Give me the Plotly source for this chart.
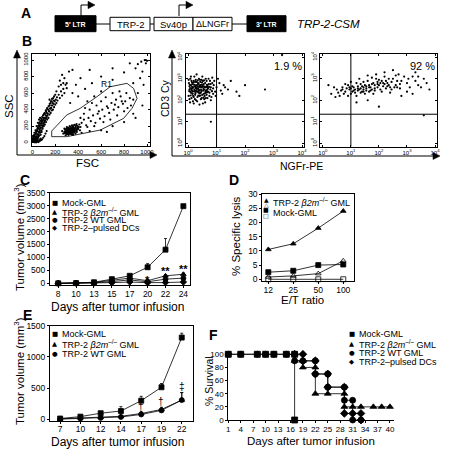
import plotly.graph_objects as go

W, H = 458, 451
def X(px): return px / W
def Y(py): return 1 - py / H

FONT = "Liberation Sans, Arial, Helvetica, sans-serif"
SYM = "DejaVu Sans, Liberation Sans, sans-serif"

# ---------------- DATA ----------------
# Panel B1: FSC / SSC events
b1_events = [
    (5,10),(10,30),(15,20),(20,50),(8,60),(25,15),(30,40),(35,70),(12,90),(40,30),(45,100),(50,60),(18,120),
    (55,130),(60,90),(28,150),(65,160),(70,120),(75,180),(38,200),(80,150),(85,210),(90,170),(95,230),(48,240),
    (100,200),(105,260),(110,220),(58,280),(115,290),(120,250),(22,5),(32,8),(42,12),(52,20),(62,35),(72,50),
    (3,40),(6,80),(68,300),(14,45),(24,75),(34,110),(44,140),(54,170),(64,200),(74,230),(84,260),(9,15),(19,25),
    (2,20),(4,50),(7,25),(11,70),(13,35),(16,85),(21,40),(23,95),(26,60),(29,110),(31,20),(33,130),(36,55),
    (39,145),(41,80),(43,165),(46,45),(49,185),(51,100),(53,205),(56,75),(59,225),(61,120),(63,245),(66,140),
    (69,180),(71,265),(73,95),(76,210),(79,285),(81,130),(83,240),(86,310),(88,190),(91,270),(93,330),(96,210),
    (98,280),(101,345),(103,240),(106,300),(108,360),(112,270),(116,330),(118,390),(122,300),(126,360),(128,410),
    (132,330),(138,400),(142,440),(148,380),(152,470),(158,420),(162,500),(168,450),(172,530),(178,480),(182,540),
    (188,510),(35,5),(45,18),(55,8),(65,22),(75,30),(85,40),(95,60),(105,80),(115,110),(125,140),
    (125,320),(130,280),(135,350),(140,300),(145,380),(150,340),(155,410),(160,360),(165,420),(170,390),(175,450),
    (180,400),(185,470),(190,430),(195,500),(200,460),(205,520),(210,480),(215,550),(220,510),(230,580),(240,540),
    (250,620),(260,570),(270,650),(280,600),(290,700),(300,660),(240,750),(260,820),(230,680),(210,620),(190,560),
    (170,500),(150,450),(280,780),(320,860),(300,720),(270,720),(110,350),(95,300),(130,420),(160,480),(200,580),
    (350,880),(150,520),(120,380),(250,700),
    (270,110),(280,130),(290,150),(300,120),(310,140),(320,160),(330,130),(340,150),(350,170),(360,140),(300,100),
    (315,180),(325,110),(335,190),(345,120),(355,200),(365,160),(375,180),(385,150),(395,200),(280,170),(290,90),
    (305,160),(320,130),(340,170),(310,110),(330,150),(350,140),(360,180),(380,210),(400,170),(410,220),(420,190),
    (260,140),(370,130),(345,100),(295,135),(305,125),(315,145),(325,165),(335,140),(345,160),(355,130),(318,120),
    (285,115),(295,145),(300,175),(308,105),(312,150),(322,140),(328,175),(332,120),(338,160),(342,135),(348,185),
    (352,115),(358,155),(362,125),(368,170),(372,145),(378,195),(382,165),(388,130),(392,180),(302,190),(316,95),
    (326,200),(336,105),(346,210),(356,95),(366,215),(376,110),(386,225),(396,160),(406,190),(416,150),(286,160),
    (296,125),(306,145),(314,170),(324,150),(334,165),(344,145),(354,160),
    (430,240),(450,280),(470,210),(490,300),(510,260),(530,330),(550,240),(570,350),(590,290),(610,400),(630,320),
    (650,440),(670,360),(690,480),(710,400),(730,520),(750,430),(770,560),(790,470),(810,500),(830,420),(850,540),
    (450,350),(500,400),(560,450),(600,500),(640,550),(700,600),(760,620),(820,600),(480,190),(540,200),(620,250),
    (680,280),(740,330),(800,380),(860,450),(880,520),(420,300),(460,420),(520,480),(580,380),(660,420),(720,460),
    (780,500),(540,560),(600,620),(480,500),
    (420,780),(380,700),(460,650),(520,720),(600,800),(700,760),(800,850),(880,720),(900,900),(920,950),(950,980),
    (980,1000),(960,860),(940,780),(990,960),(850,960),(700,900),(500,880),(350,600),(400,560),(330,480),(880,350),
    (920,600),(970,700),(1000,990),(990,1000),(600,150),(700,200),(800,250),(650,130),(900,300),(960,450),(430,120),
    (500,140),
]
b1_fsc = [p[0] for p in b1_events]
b1_ssc = [p[1] for p in b1_events]
r1_fsc = [169, 169, 300, 417, 563, 679, 825, 883, 913, 869, 796, 650, 592, 300, 169]
r1_ssc = [73, 141, 335, 415, 556, 677, 718, 657, 536, 415, 294, 194, 153, 73, 73]
b1_ticks = [0, 200, 400, 600, 800, 1000]

# Panels B2/B3: decade exponents (NGFr-PE, CD3 Cy)
b2_events = [
    (0.05,2.5),(0.1,2.7),(0.15,2.3),(0.2,2.9),(0.25,2.4),(0.3,2.6),(0.35,2.8),(0.4,2.2),(0.45,2.5),(0.5,2.7),
    (0.55,2.3),(0.6,2.6),(0.65,2.9),(0.7,2.4),(0.75,2.2),(0.8,2.6),(0.85,2.8),(0.02,2.2),(0.08,3.0),(0.12,2.1),
    (0.18,2.6),(0.22,3.1),(0.28,2.0),(0.32,2.4),(0.38,3.0),(0.42,2.7),(0.48,2.1),(0.52,2.9),(0.58,2.5),(0.62,2.1),
    (0.68,2.7),(0.72,3.0),(0.78,2.5),(0.88,2.3),(0.03,2.8),(0.13,2.45),(0.23,2.65),(0.33,2.15),(0.43,2.85),
    (0.53,2.45),(0.63,2.35),(0.73,2.75),(0.07,1.9),(0.17,1.95),(0.27,2.55),(0.37,2.35),(0.47,2.95),(0.57,2.05),
    (0.67,2.5),(0.77,2.9),(0.1,2.35),(0.2,2.15),(0.3,2.85),(0.4,2.45),(0.5,2.25),(0.6,2.8),(0.7,2.55),(0.15,2.75),
    (0.25,2.85),(0.35,2.55),(0.45,2.05),(0.55,2.65),(0.65,2.25),(0.05,2.05),(0.1,3.1),(0.3,3.2),(0.5,3.1),
    (0.2,1.85),(0.4,1.8),(0.6,1.9),(0.8,2.0),(0.85,3.05),(0.9,2.7),(0.95,2.4),(1.0,2.6),(1.1,2.8),(1.2,2.3),
    (1.05,3.0),(1.3,2.6),(1.5,2.9),(1.4,2.5),(1.7,2.4),(2.0,2.7),(2.7,2.5),(1.8,2.2),(0.8,1.0),(3.3,4.1),
    (0.35,2.65),(0.45,2.35),(0.25,2.25),(0.15,2.55),(0.55,2.75),(0.65,2.45),(0.05,2.65),(0.75,2.35),(0.12,2.9),
    (0.42,2.95),(0.62,3.0),(0.32,1.95),(0.52,1.85),(0.18,2.2),(0.38,2.5),(0.58,2.2),(0.08,2.4),(0.28,2.7),
    (0.48,2.6),(0.68,2.1),(0.22,2.5),(0.02,2.95),(0.88,2.55),(0.82,2.15),(1.15,2.45),(1.25,2.7),(0.92,2.9),
    (0.97,2.2),(0.14,2.62),(0.24,2.42),(0.34,2.72),(0.44,2.62),(0.54,2.52),(0.64,2.62),(0.26,2.32),(0.36,2.42),
    (0.11,2.52),(0.21,2.72),(0.31,2.52),(0.41,2.32),(0.51,2.62),(0.61,2.42),(0.16,2.32),(0.26,2.62),(0.36,2.22),
    (0.46,2.72),(0.56,2.92),(0.66,2.72),(0.06,2.72),(0.19,2.82),(0.29,2.42),(0.39,2.62),(0.49,2.82),(0.59,2.32),
    (0.69,2.62),(0.09,2.22),(0.14,2.82),(0.34,2.92),(0.44,2.22),(0.54,2.12),(0.74,2.62),(0.04,2.42),(0.24,2.05),
    (0.84,2.42),(0.79,2.75),(0.27,2.95),(0.47,2.42),(0.57,2.62),(0.17,2.42),(0.37,2.77),(0.07,2.57),(0.67,2.37),
]
b3_events = [
    (0.3,2.3),(0.5,2.5),(0.6,2.2),(0.7,2.6),(0.8,2.4),(0.9,2.7),(1.0,2.3),(1.1,2.6),(1.2,2.8),(1.3,2.5),
    (1.4,2.4),(1.5,2.7),(1.6,2.9),(1.7,2.6),(1.8,2.8),(1.9,3.0),(2.0,2.7),(2.1,2.9),(2.2,3.1),(2.3,2.8),
    (2.4,2.6),(2.5,3.0),(2.6,2.7),(2.7,3.2),(2.8,2.9),(3.0,2.8),(3.2,3.1),(3.4,2.7),(3.6,3.0),(3.8,2.5),
    (0.4,2.6),(0.65,2.45),(0.75,2.3),(0.85,2.55),(0.95,2.5),(1.05,2.65),(1.15,2.35),(1.25,2.55),(1.35,2.75),
    (1.45,2.5),(1.55,2.55),(1.65,2.4),(1.75,2.75),(1.85,2.55),(1.95,2.85),(2.05,2.5),(2.15,2.65),(2.25,2.55),
    (2.35,3.0),(2.45,2.85),(2.55,2.6),(2.65,2.9),(2.75,2.55),(2.9,3.1),(3.1,2.6),(3.3,2.9),(3.5,2.6),
    (0.55,2.35),(0.9,2.2),(1.2,2.2),(1.5,2.3),(1.8,2.3),(2.1,2.4),(2.4,2.35),(1.0,2.85),(1.3,3.0),(1.6,3.15),
    (1.9,3.2),(2.2,3.3),(2.5,3.4),(1.1,2.45),(1.4,2.65),(1.7,2.45),(2.0,2.95),(2.3,2.65),(0.8,2.75),(1.2,1.9),
    (1.6,2.0),(2.0,1.7),(2.8,2.2),(3.0,2.4),(3.2,2.3),(0.2,2.7),(0.45,2.15),(1.45,2.85),(1.75,3.05),(2.6,3.15),
    (3.3,3.3),(3.7,2.8),(3.6,1.3),(1.35,2.35),(1.65,2.7),(1.95,2.6),(2.2,2.75),(0.7,2.5),(1.0,2.55),(1.25,2.65),
    (1.55,2.45),(1.85,2.7),(2.15,2.8),(2.45,2.5),(2.75,2.75),(3.05,3.0),(3.4,3.1),(1.15,2.5),(1.45,2.6),
    (1.75,2.5),(2.05,2.8),(2.35,2.7),(2.65,2.6),(1.05,2.4),(1.35,2.55),(1.65,2.6),(1.95,2.75),(1.25,2.45),
    (1.55,2.65),(1.85,2.45),(2.25,2.9),(0.95,2.6),(1.45,2.4),
]
gate_ngfr_exp = 1.0
gate_cd3_exp = 1.35
b_pcts = ["1.9 %", "92 %"]
log_tickvals = [1, 10, 100, 1000, 10000]
log_ticktext = ["10<sup>0</sup>", "10<sup>1</sup>", "10<sup>2</sup>", "10<sup>3</sup>", "10<sup>4</sup>"]

# Panel C
c_days = ["8", "10", "13", "15", "17", "20", "22", "24"]
c_mock = [0, 10, 40, 160, 290, 620, 1300, 2980]
c_mock_err = [0, 0, 10, 30, 60, 140, 430, 0]
c_b2m = [0, 5, 30, 120, 200, 100, 290, 350]
c_b2m_err = [0, 0, 5, 20, 30, 20, 40, 50]
c_wt = [0, 5, 20, 70, 130, 60, 160, 200]
c_wt_err = [0, 0, 5, 15, 20, 15, 30, 40]
c_dc = [0, 0, 10, 25, 50, 25, 30, 50]
c_sig_days = ["20", "22", "24"]
c_sig_y = [420, 800, 880]
c_sig_txt = ["*", "**", "**"]

# Panel D
d_ratio = ["12", "25", "50", "100"]
d_b2m_trp2 = [10.5, 12.5, 18.0, 24.0]
d_b2m_ctrl = [0.8, 1.2, 2.0, 6.5]
d_mock_trp2 = [2.5, 3.0, 5.0, 5.2]
d_mock_ctrl = [0.0, 0.0, 0.0, 0.0]

# Panel E
e_days = ["7", "10", "12", "14", "17", "19", "22"]
e_mock = [15, 45, 100, 135, 300, 515, 1310]
e_mock_err = [8, 12, 20, 70, 70, 60, 70]
e_b2m = [10, 25, 35, 50, 95, 160, 310]
e_b2m_err = [5, 8, 10, 12, 25, 35, 120]
e_wt = [5, 15, 25, 40, 80, 145, 310]
e_wt_err = [5, 8, 10, 12, 20, 30, 120]
e_sig_days = ["17", "19", "22"]
e_sig_y = [215, 295, 520]
e_sig_txt = ["†", "†", "‡"]

# Panel F (Kaplan-Meier)
f_mock_days = [1, 4, 8, 10, 12, 15, 17, 17]
f_mock_surv = [100, 100, 100, 100, 100, 100, 100, 0]
f_b2m_days = [17, 17, 19, 19, 22, 22, 25, 29, 29, 31, 33, 36, 38, 40]
f_b2m_surv = [100, 90, 90, 80, 80, 40, 40, 40, 20, 20, 20, 20, 20, 20]
f_wt_days = [1, 4, 8, 10, 12, 15, 17, 17, 19, 22, 22, 25, 25, 29, 29, 31, 31, 33]
f_wt_surv = [100, 100, 100, 100, 100, 100, 100, 90, 90, 90, 70, 70, 50, 50, 30, 30, 0, 0]
f_dc_days = [17, 19, 19, 22, 22, 25, 25, 29, 29, 31, 33, 33]
f_dc_surv = [100, 100, 90, 90, 70, 70, 50, 50, 10, 10, 10, 0]
f_ticks = [1, 4, 7, 10, 13, 16, 19, 22, 25, 28, 31, 34, 37, 40]

B2M = "TRP-2 <i>β2m</i><sup>–/–</sup> GML"
LABELS = ["Mock-GML", B2M, "TRP-2 WT GML", "TRP-2–pulsed DCs"]

# ---------------- FIGURE ----------------
fig = go.Figure()
LW = 0.8
def dots(x, y, xa, ya):
    fig.add_trace(go.Scatter(x=x, y=y, mode="markers", xaxis=xa, yaxis=ya,
                             marker=dict(size=2.2, color="black", line=dict(width=0)),
                             showlegend=False, hoverinfo="skip"))
def line(x, y, xa, ya, w=LW):
    fig.add_trace(go.Scatter(x=x, y=y, mode="lines", xaxis=xa, yaxis=ya,
                             line=dict(color="black", width=w), showlegend=False, hoverinfo="skip"))

# B1
dots(b1_fsc, b1_ssc, "x", "y")
line(r1_fsc, r1_ssc, "x", "y")
# B2 / B3
dots([10 ** p[0] for p in b2_events], [10 ** p[1] for p in b2_events], "x2", "y2")
dots([10 ** p[0] for p in b3_events], [10 ** p[1] for p in b3_events], "x3", "y3")
for xa, ya in (("x2", "y2"), ("x3", "y3")):
    line([10 ** gate_ngfr_exp] * 2, [10 ** -0.2, 10 ** 4.2], xa, ya, 1)
    line([10 ** -0.2, 10 ** 4.2], [10 ** gate_cd3_exp] * 2, xa, ya, 1)

def series(x, y, sym, xa, ya, err=None, size=5, shape="linear"):
    kw = {}
    if err is not None:
        kw["error_y"] = dict(type="data", array=err, arrayminus=[0] * len(err), symmetric=False,
                             color="black", thickness=0.8, width=1.5)
    fig.add_trace(go.Scatter(x=x, y=y, mode="lines+markers", xaxis=xa, yaxis=ya,
                             line=dict(color="black", width=LW, shape=shape),
                             marker=dict(symbol=sym, size=size, color="black",
                                         line=dict(color="black", width=0.8)),
                             showlegend=False, cliponaxis=False, **kw))

# C
series(c_days, c_mock, "square", "x4", "y4", c_mock_err)
series(c_days, c_b2m, "triangle-up", "x4", "y4", c_b2m_err)
series(c_days, c_wt, "circle", "x4", "y4", c_wt_err)
series(c_days, c_dc, "diamond", "x4", "y4")
# D
series(d_ratio, d_b2m_trp2, "triangle-up", "x5", "y5")
series(d_ratio, d_b2m_ctrl, "triangle-up-open", "x5", "y5")
series(d_ratio, d_mock_trp2, "square", "x5", "y5")
series(d_ratio, d_mock_ctrl, "square-open", "x5", "y5")
# E
series(e_days, e_mock, "square", "x6", "y6", e_mock_err)
series(e_days, e_b2m, "triangle-up", "x6", "y6", e_b2m_err)
series(e_days, e_wt, "circle", "x6", "y6", e_wt_err)
# F
series(f_mock_days, f_mock_surv, "square", "x7", "y7", size=6, shape="hv")
series(f_b2m_days, f_b2m_surv, "triangle-up", "x7", "y7", size=6, shape="hv")
series(f_wt_days, f_wt_surv, "circle", "x7", "y7", size=6, shape="hv")
series(f_dc_days, f_dc_surv, "diamond", "x7", "y7", size=6, shape="hv")

# ---------------- AXES ----------------
def dx(a, b): return [X(a), X(b)]
def dy(top, bot): return [Y(bot), Y(top)]
base = dict(showgrid=False, zeroline=False, showline=True, linecolor="black", linewidth=1,
            automargin=False, tickcolor="black", ticks="outside", ticklen=2, tickwidth=1,
            tickfont=dict(family=FONT, size=8.5, color="black"))
bbox = dict(base, mirror="ticks", ticks="inside", ticklen=2, tickfont=dict(family=FONT, size=6, color="black"))
lay = {}
lay["xaxis"] = dict(bbox, domain=dx(31.5, 150), range=[-7, 1026], tickvals=b1_ticks, anchor="y")
lay["yaxis"] = dict(bbox, domain=dy(54, 146), range=[-40, 1073], tickvals=b1_ticks, tickangle=-90, anchor="x")
lay["xaxis2"] = dict(bbox, type="log", domain=dx(185.5, 304), range=[-0.09, 4.07], tickvals=log_tickvals,
                     ticktext=log_ticktext, anchor="y2")
lay["yaxis2"] = dict(bbox, type="log", domain=dy(54, 146.5), range=[-0.15, 4.15], tickvals=log_tickvals,
                     ticktext=log_ticktext, tickangle=-90, anchor="x2")
lay["xaxis3"] = dict(bbox, type="log", domain=dx(320, 437), range=[-0.1, 4.07], tickvals=log_tickvals,
                     ticktext=log_ticktext, anchor="y3")
lay["yaxis3"] = dict(bbox, type="log", domain=dy(54, 146.5), range=[-0.15, 4.15], tickvals=log_tickvals,
                     ticktext=log_ticktext, tickangle=-90, anchor="x3")
lay["xaxis4"] = dict(base, mirror=True, type="category", domain=dx(50, 190), range=[-0.46, 7.37], anchor="y4",
                     ticklabelstandoff=-1)
lay["yaxis4"] = dict(base, mirror=True, domain=dy(192.7, 285), range=[-65, 3500], dtick=500, anchor="x4")
lay["xaxis5"] = dict(base, mirror=True, type="category", domain=dx(262.3, 354), range=[-0.24, 3.43], anchor="y5",
                     ticklabelstandoff=-1)
lay["yaxis5"] = dict(base, mirror=True, domain=dy(194, 281), range=[-0.6, 30], dtick=5, anchor="x5")
lay["xaxis6"] = dict(base, mirror=True, type="category", domain=dx(50, 192.7), range=[-0.5, 6.54], anchor="y6",
                     ticklabelstandoff=-2)
lay["yaxis6"] = dict(base, mirror=True, domain=dy(325.7, 421), range=[-25, 1500], dtick=500, anchor="x6")
lay["xaxis7"] = dict(base, domain=dx(228.3, 394.1), range=[1, 41], tickvals=f_ticks, anchor="y7",
                     ticklabelstandoff=-1, tickfont=dict(family=FONT, size=8, color="black"))
lay["yaxis7"] = dict(base, domain=dy(352.3, 420), range=[0, 103], dtick=20, anchor="x7",
                     tickfont=dict(family=FONT, size=8, color="black"))

# ---------------- SHAPES (schematic + arrows) ----------------
shapes = []
def pline(x0, y0, x1, y1, w=1):
    shapes.append(dict(type="line", xref="paper", yref="paper", x0=X(x0), y0=Y(y0), x1=X(x1), y1=Y(y1),
                       line=dict(color="black", width=w)))
def prect(x0, y0, x1, y1, fill):
    shapes.append(dict(type="rect", xref="paper", yref="paper", x0=X(x0), y0=Y(y0), x1=X(x1), y1=Y(y1),
                       fillcolor=fill, line=dict(color="black", width=1)))
def ptri(pts):
    path = "M " + " L ".join(f"{X(a):.5f},{Y(b):.5f}" for a, b in pts) + " Z"
    shapes.append(dict(type="path", xref="paper", yref="paper", path=path, fillcolor="black",
                       line=dict(color="black", width=0.5)))

pline(55, 24, 286, 24)
prect(55, 15.7, 96, 31.7, "black")
prect(110, 17.3, 150, 30.7, "white")
prect(154, 17.3, 193, 30.7, "white")
prect(193, 17.3, 232, 30.7, "white")
prect(247, 15.7, 286, 31.7, "black")
for ax in (81, 179):
    pline(ax, 16, ax, 5)
    pline(ax, 5, ax + 8, 5)
    ptri([(ax + 7, 1.3), (ax + 14, 5), (ax + 7, 8.7)])
# B axis arrows
pline(17, 155, 17, 57); ptri([(13.5, 58), (17, 50), (20.5, 58)])
pline(17, 155, 150, 155); ptri([(150, 151.5), (157, 155), (150, 158.5)])
pline(172, 156, 172, 57); ptri([(168.5, 58), (172, 50), (175.5, 58)])
pline(172, 156, 433, 156); ptri([(433, 152.5), (440, 156), (433, 159.5)])

# ---------------- ANNOTATIONS ----------------
ann = []
def txt(x, y, s, size=12, angle=0, xanchor="center", color="black", bold=False, italic=False, family=FONT):
    if bold: s = f"<b>{s}</b>"
    if italic: s = f"<i>{s}</i>"
    ann.append(dict(x=X(x), y=Y(y), xref="paper", yref="paper", text=s, showarrow=False,
                    textangle=angle, xanchor=xanchor, yanchor="middle",
                    font=dict(family=family, size=size, color=color)))

for lab, (lx, ly) in zip("ABCDEF", [(26, 13), (27, 41), (25, 180), (234, 180), (27, 315), (213, 335)]):
    txt(lx, ly, lab, 14, bold=True, family="Liberation Sans, Arial Black, sans-serif")
txt(75.5, 24, "5′ LTR", 7, color="white", bold=True)
txt(266.5, 24, "3′ LTR", 7, color="white", bold=True)
txt(130, 24, "TRP-2", 9.5)
txt(173.5, 24, "Sv40p", 9.5)
txt(212.5, 24, "ΔLNGFr", 9)
txt(295, 24, "TRP-2-CSM", 11.5, xanchor="left", italic=True)
txt(9, 106, "SSC", 11.5, angle=-90)
txt(87, 163, "FSC", 11.5)
txt(165, 98, "CD3 Cy", 10.5, angle=-90)
txt(301, 166, "NGFr-PE", 10.5)
txt(288, 66, b_pcts[0], 11)
txt(422, 66, b_pcts[1], 11)
txt(106.5, 83.5, "R1", 8.5)

# C
txt(117, 307, "Days after tumor infusion", 12)
txt(19, 237, "Tumor volume (mm<sup>3</sup>)", 11.5, angle=-90)
for d, v, s in zip(c_sig_days, c_sig_y, c_sig_txt):
    ann.append(dict(x=c_days.index(d), y=v, xref="x4", yref="y4", text=f"<b>{s}</b>", showarrow=False,
                    yanchor="top", font=dict(family=FONT, size=11, color="black")))
c_syms = ["■", "▲", "●", "◆"]
for i, (sym, lab) in enumerate(zip(c_syms, LABELS)):
    yy = 203.3 + i * 8.3
    txt(54.5, yy, sym, 6.5, family=SYM)
    txt(59.5, yy, lab, 9, xanchor="left")
# D
txt(302.5, 300, "E/T ratio", 11.5)
txt(236, 237, "% Specific lysis", 11.5, angle=-90)
for sym, yy in zip(["▲", "△", "■", "□"], [199.5, 204.5, 210, 215]):
    txt(266, yy, sym, 6, family=SYM)
txt(270.5, 202.3, B2M, 9, xanchor="left")
txt(270.5, 212.7, "Mock-GML", 9, xanchor="left")
# E
txt(117, 441.5, "Days after tumor infusion", 12)
txt(19, 371, "Tumor volume (mm<sup>3</sup>)", 11.5, angle=-90)
for d, v, s in zip(e_sig_days, e_sig_y, e_sig_txt):
    ann.append(dict(x=e_days.index(d), y=v, xref="x6", yref="y6", text=s, showarrow=False,
                    yanchor="middle", font=dict(family=FONT, size=10, color="black")))
for i, (sym, lab) in enumerate(zip(c_syms[:3], LABELS[:3])):
    yy = 334.3 + i * 9.7
    txt(54.5, yy, sym, 6.5, family=SYM)
    txt(59.5, yy, lab, 9, xanchor="left")
# F
txt(311, 441, "Days after tumor infusion", 11.5)
txt(209, 381, "% Survival", 10.5, angle=-90)
for i, (sym, lab) in enumerate(zip(c_syms, LABELS)):
    yy = 334.3 + i * 9.3
    txt(351.5, yy, sym, 6.5, family=SYM)
    txt(356.5, yy, lab, 9, xanchor="left")

fig.update_layout(width=W, height=H, margin=dict(l=0, r=0, t=0, b=0), autosize=False,
                  template="none", paper_bgcolor="white", plot_bgcolor="rgba(0,0,0,0)",
                  showlegend=False, shapes=shapes, annotations=ann,
                  font=dict(family=FONT, color="black"), **lay)

fig.write_html("out.html", config={"displayModeBar": False, "staticPlot": True},
               post_script="document.body.style.margin='0';document.body.style.padding='0';")
